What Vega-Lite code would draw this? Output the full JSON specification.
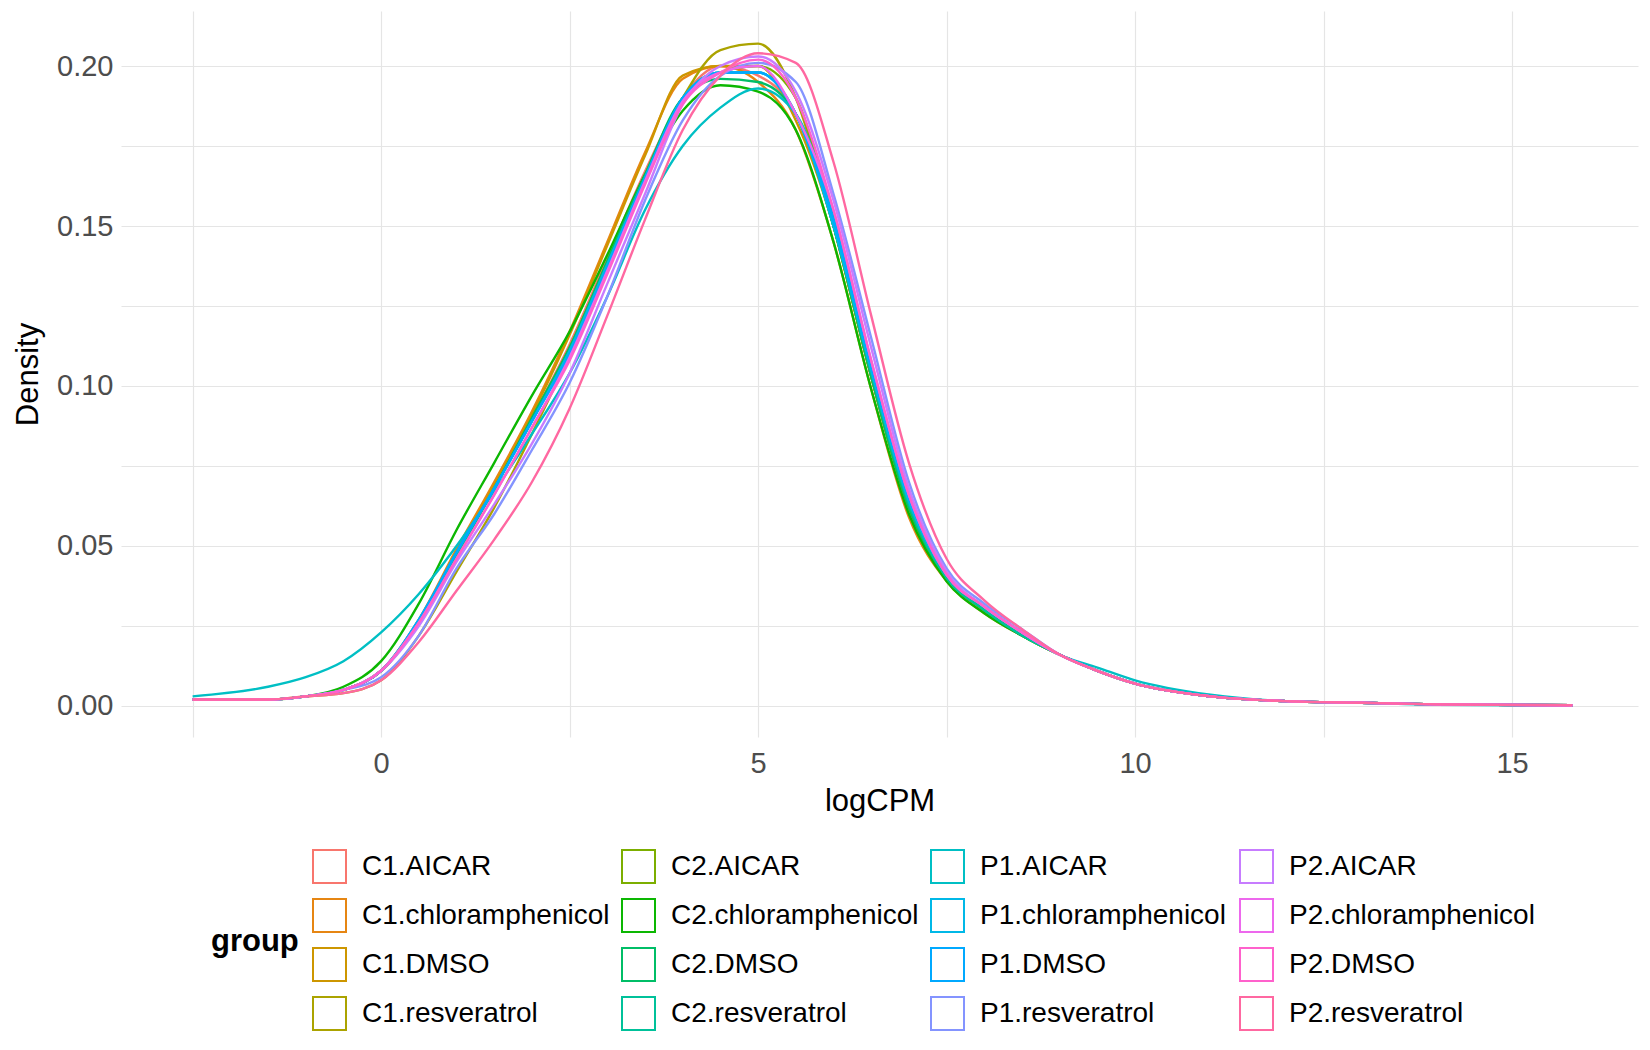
{
  "$schema": "https://vega.github.io/schema/vega-lite/v6.json",
  "width": 1517,
  "height": 726,
  "autosize": "none",
  "padding": {"left": 121, "top": 11, "right": 12, "bottom": 313},
  "background": "white",
  "config": {
    "font": "Liberation Sans",
    "view": {"stroke": null}
  },
  "data": {
    "values": [
      {"x": -2.5, "C1_AICAR": 0.002, "C1_chloramphenicol": 0.002, "C1_DMSO": 0.002, "C1_resveratrol": 0.002, "C2_AICAR": 0.002, "C2_chloramphenicol": 0.002, "C2_DMSO": 0.002, "C2_resveratrol": 0.002, "P1_AICAR": 0.003, "P1_chloramphenicol": 0.002, "P1_DMSO": 0.002, "P1_resveratrol": 0.002, "P2_AICAR": 0.002, "P2_chloramphenicol": 0.002, "P2_DMSO": 0.002, "P2_resveratrol": 0.002},
      {"x": -1.5, "C1_AICAR": 0.002, "C1_chloramphenicol": 0.002, "C1_DMSO": 0.002, "C1_resveratrol": 0.002, "C2_AICAR": 0.002, "C2_chloramphenicol": 0.002, "C2_DMSO": 0.002, "C2_resveratrol": 0.002, "P1_AICAR": 0.006, "P1_chloramphenicol": 0.002, "P1_DMSO": 0.002, "P1_resveratrol": 0.002, "P2_AICAR": 0.002, "P2_chloramphenicol": 0.002, "P2_DMSO": 0.002, "P2_resveratrol": 0.002},
      {"x": -1, "C1_AICAR": 0.003, "C1_chloramphenicol": 0.003, "C1_DMSO": 0.003, "C1_resveratrol": 0.003, "C2_AICAR": 0.003, "C2_chloramphenicol": 0.003, "C2_DMSO": 0.003, "C2_resveratrol": 0.003, "P1_AICAR": 0.009, "P1_chloramphenicol": 0.003, "P1_DMSO": 0.003, "P1_resveratrol": 0.003, "P2_AICAR": 0.003, "P2_chloramphenicol": 0.003, "P2_DMSO": 0.003, "P2_resveratrol": 0.003},
      {"x": -0.5, "C1_AICAR": 0.005, "C1_chloramphenicol": 0.005, "C1_DMSO": 0.005, "C1_resveratrol": 0.004, "C2_AICAR": 0.005, "C2_chloramphenicol": 0.006, "C2_DMSO": 0.005, "C2_resveratrol": 0.005, "P1_AICAR": 0.014, "P1_chloramphenicol": 0.005, "P1_DMSO": 0.005, "P1_resveratrol": 0.005, "P2_AICAR": 0.005, "P2_chloramphenicol": 0.005, "P2_DMSO": 0.005, "P2_resveratrol": 0.004},
      {"x": 0, "C1_AICAR": 0.011, "C1_chloramphenicol": 0.011, "C1_DMSO": 0.011, "C1_resveratrol": 0.008, "C2_AICAR": 0.011, "C2_chloramphenicol": 0.014, "C2_DMSO": 0.011, "C2_resveratrol": 0.011, "P1_AICAR": 0.023, "P1_chloramphenicol": 0.011, "P1_DMSO": 0.011, "P1_resveratrol": 0.009, "P2_AICAR": 0.011, "P2_chloramphenicol": 0.011, "P2_DMSO": 0.011, "P2_resveratrol": 0.008},
      {"x": 0.5, "C1_AICAR": 0.026, "C1_chloramphenicol": 0.027, "C1_DMSO": 0.026, "C1_resveratrol": 0.022, "C2_AICAR": 0.026, "C2_chloramphenicol": 0.032, "C2_DMSO": 0.026, "C2_resveratrol": 0.026, "P1_AICAR": 0.035, "P1_chloramphenicol": 0.027, "P1_DMSO": 0.027, "P1_resveratrol": 0.022, "P2_AICAR": 0.025, "P2_chloramphenicol": 0.026, "P2_DMSO": 0.026, "P2_resveratrol": 0.02},
      {"x": 1, "C1_AICAR": 0.047, "C1_chloramphenicol": 0.049, "C1_DMSO": 0.048, "C1_resveratrol": 0.042, "C2_AICAR": 0.047, "C2_chloramphenicol": 0.055, "C2_DMSO": 0.048, "C2_resveratrol": 0.047, "P1_AICAR": 0.05, "P1_chloramphenicol": 0.048, "P1_DMSO": 0.048, "P1_resveratrol": 0.043, "P2_AICAR": 0.045, "P2_chloramphenicol": 0.046, "P2_DMSO": 0.046, "P2_resveratrol": 0.036},
      {"x": 1.5, "C1_AICAR": 0.068, "C1_chloramphenicol": 0.07, "C1_DMSO": 0.069, "C1_resveratrol": 0.062, "C2_AICAR": 0.068, "C2_chloramphenicol": 0.076, "C2_DMSO": 0.068, "C2_resveratrol": 0.068, "P1_AICAR": 0.067, "P1_chloramphenicol": 0.068, "P1_DMSO": 0.068, "P1_resveratrol": 0.06, "P2_AICAR": 0.063, "P2_chloramphenicol": 0.066, "P2_DMSO": 0.066, "P2_resveratrol": 0.052},
      {"x": 2, "C1_AICAR": 0.09, "C1_chloramphenicol": 0.092, "C1_DMSO": 0.091, "C1_resveratrol": 0.085, "C2_AICAR": 0.09, "C2_chloramphenicol": 0.097, "C2_DMSO": 0.09, "C2_resveratrol": 0.089, "P1_AICAR": 0.085, "P1_chloramphenicol": 0.089, "P1_DMSO": 0.089, "P1_resveratrol": 0.08, "P2_AICAR": 0.082, "P2_chloramphenicol": 0.087, "P2_DMSO": 0.087, "P2_resveratrol": 0.07},
      {"x": 2.5, "C1_AICAR": 0.113, "C1_chloramphenicol": 0.117, "C1_DMSO": 0.116, "C1_resveratrol": 0.11, "C2_AICAR": 0.112, "C2_chloramphenicol": 0.117, "C2_DMSO": 0.112, "C2_resveratrol": 0.111, "P1_AICAR": 0.104, "P1_chloramphenicol": 0.111, "P1_DMSO": 0.11, "P1_resveratrol": 0.101, "P2_AICAR": 0.104, "P2_chloramphenicol": 0.109, "P2_DMSO": 0.108, "P2_resveratrol": 0.093},
      {"x": 3, "C1_AICAR": 0.14, "C1_chloramphenicol": 0.145, "C1_DMSO": 0.144, "C1_resveratrol": 0.138, "C2_AICAR": 0.139, "C2_chloramphenicol": 0.141, "C2_DMSO": 0.139, "C2_resveratrol": 0.138, "P1_AICAR": 0.128, "P1_chloramphenicol": 0.138, "P1_DMSO": 0.137, "P1_resveratrol": 0.128, "P2_AICAR": 0.132, "P2_chloramphenicol": 0.136, "P2_DMSO": 0.135, "P2_resveratrol": 0.122},
      {"x": 3.5, "C1_AICAR": 0.167, "C1_chloramphenicol": 0.173, "C1_DMSO": 0.172, "C1_resveratrol": 0.165, "C2_AICAR": 0.166, "C2_chloramphenicol": 0.166, "C2_DMSO": 0.166, "C2_resveratrol": 0.165, "P1_AICAR": 0.155, "P1_chloramphenicol": 0.165, "P1_DMSO": 0.165, "P1_resveratrol": 0.158, "P2_AICAR": 0.16, "P2_chloramphenicol": 0.164, "P2_DMSO": 0.163, "P2_resveratrol": 0.152},
      {"x": 4, "C1_AICAR": 0.19, "C1_chloramphenicol": 0.196, "C1_DMSO": 0.197, "C1_resveratrol": 0.19, "C2_AICAR": 0.19, "C2_chloramphenicol": 0.186, "C2_DMSO": 0.19, "C2_resveratrol": 0.19, "P1_AICAR": 0.175, "P1_chloramphenicol": 0.19, "P1_DMSO": 0.19, "P1_resveratrol": 0.183, "P2_AICAR": 0.188, "P2_chloramphenicol": 0.189, "P2_DMSO": 0.188, "P2_resveratrol": 0.18},
      {"x": 4.5, "C1_AICAR": 0.2, "C1_chloramphenicol": 0.2, "C1_DMSO": 0.2, "C1_resveratrol": 0.205, "C2_AICAR": 0.198, "C2_chloramphenicol": 0.194, "C2_DMSO": 0.196, "C2_resveratrol": 0.198, "P1_AICAR": 0.187, "P1_chloramphenicol": 0.198, "P1_DMSO": 0.198, "P1_resveratrol": 0.197, "P2_AICAR": 0.2, "P2_chloramphenicol": 0.198, "P2_DMSO": 0.198, "P2_resveratrol": 0.197},
      {"x": 5, "C1_AICAR": 0.197, "C1_chloramphenicol": 0.195, "C1_DMSO": 0.2, "C1_resveratrol": 0.207, "C2_AICAR": 0.2, "C2_chloramphenicol": 0.192, "C2_DMSO": 0.195, "C2_resveratrol": 0.198, "P1_AICAR": 0.193, "P1_chloramphenicol": 0.198, "P1_DMSO": 0.198, "P1_resveratrol": 0.201, "P2_AICAR": 0.203, "P2_chloramphenicol": 0.2, "P2_DMSO": 0.202, "P2_resveratrol": 0.204},
      {"x": 5.5, "C1_AICAR": 0.185, "C1_chloramphenicol": 0.18, "C1_DMSO": 0.183, "C1_resveratrol": 0.19, "C2_AICAR": 0.19, "C2_chloramphenicol": 0.18, "C2_DMSO": 0.185, "C2_resveratrol": 0.185, "P1_AICAR": 0.185, "P1_chloramphenicol": 0.185, "P1_DMSO": 0.185, "P1_resveratrol": 0.195, "P2_AICAR": 0.192, "P2_chloramphenicol": 0.185, "P2_DMSO": 0.19, "P2_resveratrol": 0.201},
      {"x": 6, "C1_AICAR": 0.15, "C1_chloramphenicol": 0.145, "C1_DMSO": 0.15, "C1_resveratrol": 0.15, "C2_AICAR": 0.15, "C2_chloramphenicol": 0.145, "C2_DMSO": 0.15, "C2_resveratrol": 0.15, "P1_AICAR": 0.153, "P1_chloramphenicol": 0.15, "P1_DMSO": 0.152, "P1_resveratrol": 0.16, "P2_AICAR": 0.158, "P2_chloramphenicol": 0.155, "P2_DMSO": 0.155, "P2_resveratrol": 0.17},
      {"x": 6.5, "C1_AICAR": 0.103, "C1_chloramphenicol": 0.099, "C1_DMSO": 0.103, "C1_resveratrol": 0.103, "C2_AICAR": 0.103, "C2_chloramphenicol": 0.099, "C2_DMSO": 0.103, "C2_resveratrol": 0.104, "P1_AICAR": 0.107, "P1_chloramphenicol": 0.105, "P1_DMSO": 0.106, "P1_resveratrol": 0.115, "P2_AICAR": 0.112, "P2_chloramphenicol": 0.108, "P2_DMSO": 0.108, "P2_resveratrol": 0.122},
      {"x": 7, "C1_AICAR": 0.062, "C1_chloramphenicol": 0.059, "C1_DMSO": 0.062, "C1_resveratrol": 0.062, "C2_AICAR": 0.062, "C2_chloramphenicol": 0.06, "C2_DMSO": 0.062, "C2_resveratrol": 0.063, "P1_AICAR": 0.065, "P1_chloramphenicol": 0.064, "P1_DMSO": 0.065, "P1_resveratrol": 0.07, "P2_AICAR": 0.068, "P2_chloramphenicol": 0.066, "P2_DMSO": 0.066, "P2_resveratrol": 0.076},
      {"x": 7.5, "C1_AICAR": 0.04, "C1_chloramphenicol": 0.039, "C1_DMSO": 0.04, "C1_resveratrol": 0.04, "C2_AICAR": 0.04, "C2_chloramphenicol": 0.039, "C2_DMSO": 0.04, "C2_resveratrol": 0.04, "P1_AICAR": 0.041, "P1_chloramphenicol": 0.041, "P1_DMSO": 0.041, "P1_resveratrol": 0.043, "P2_AICAR": 0.042, "P2_chloramphenicol": 0.041, "P2_DMSO": 0.041, "P2_resveratrol": 0.046},
      {"x": 8, "C1_AICAR": 0.03, "C1_chloramphenicol": 0.029, "C1_DMSO": 0.03, "C1_resveratrol": 0.03, "C2_AICAR": 0.03, "C2_chloramphenicol": 0.029, "C2_DMSO": 0.03, "C2_resveratrol": 0.03, "P1_AICAR": 0.031, "P1_chloramphenicol": 0.031, "P1_DMSO": 0.031, "P1_resveratrol": 0.032, "P2_AICAR": 0.031, "P2_chloramphenicol": 0.031, "P2_DMSO": 0.031, "P2_resveratrol": 0.033},
      {"x": 8.5, "C1_AICAR": 0.022, "C1_chloramphenicol": 0.022, "C1_DMSO": 0.022, "C1_resveratrol": 0.022, "C2_AICAR": 0.022, "C2_chloramphenicol": 0.022, "C2_DMSO": 0.022, "C2_resveratrol": 0.022, "P1_AICAR": 0.023, "P1_chloramphenicol": 0.023, "P1_DMSO": 0.023, "P1_resveratrol": 0.024, "P2_AICAR": 0.023, "P2_chloramphenicol": 0.023, "P2_DMSO": 0.023, "P2_resveratrol": 0.024},
      {"x": 9, "C1_AICAR": 0.016, "C1_chloramphenicol": 0.016, "C1_DMSO": 0.016, "C1_resveratrol": 0.016, "C2_AICAR": 0.016, "C2_chloramphenicol": 0.016, "C2_DMSO": 0.016, "C2_resveratrol": 0.016, "P1_AICAR": 0.016, "P1_chloramphenicol": 0.016, "P1_DMSO": 0.016, "P1_resveratrol": 0.016, "P2_AICAR": 0.016, "P2_chloramphenicol": 0.016, "P2_DMSO": 0.016, "P2_resveratrol": 0.016},
      {"x": 9.5, "C1_AICAR": 0.011, "C1_chloramphenicol": 0.011, "C1_DMSO": 0.011, "C1_resveratrol": 0.011, "C2_AICAR": 0.011, "C2_chloramphenicol": 0.011, "C2_DMSO": 0.011, "C2_resveratrol": 0.011, "P1_AICAR": 0.012, "P1_chloramphenicol": 0.011, "P1_DMSO": 0.011, "P1_resveratrol": 0.011, "P2_AICAR": 0.011, "P2_chloramphenicol": 0.011, "P2_DMSO": 0.011, "P2_resveratrol": 0.011},
      {"x": 10, "C1_AICAR": 0.007, "C1_chloramphenicol": 0.007, "C1_DMSO": 0.007, "C1_resveratrol": 0.007, "C2_AICAR": 0.007, "C2_chloramphenicol": 0.007, "C2_DMSO": 0.007, "C2_resveratrol": 0.007, "P1_AICAR": 0.008, "P1_chloramphenicol": 0.007, "P1_DMSO": 0.007, "P1_resveratrol": 0.007, "P2_AICAR": 0.007, "P2_chloramphenicol": 0.007, "P2_DMSO": 0.007, "P2_resveratrol": 0.007},
      {"x": 11, "C1_AICAR": 0.003, "C1_chloramphenicol": 0.003, "C1_DMSO": 0.003, "C1_resveratrol": 0.003, "C2_AICAR": 0.003, "C2_chloramphenicol": 0.003, "C2_DMSO": 0.003, "C2_resveratrol": 0.003, "P1_AICAR": 0.0035, "P1_chloramphenicol": 0.003, "P1_DMSO": 0.003, "P1_resveratrol": 0.003, "P2_AICAR": 0.003, "P2_chloramphenicol": 0.003, "P2_DMSO": 0.003, "P2_resveratrol": 0.003},
      {"x": 12, "C1_AICAR": 0.0015, "C1_chloramphenicol": 0.0015, "C1_DMSO": 0.0015, "C1_resveratrol": 0.0015, "C2_AICAR": 0.0015, "C2_chloramphenicol": 0.0015, "C2_DMSO": 0.0015, "C2_resveratrol": 0.0015, "P1_AICAR": 0.0015, "P1_chloramphenicol": 0.0015, "P1_DMSO": 0.0015, "P1_resveratrol": 0.0015, "P2_AICAR": 0.0015, "P2_chloramphenicol": 0.0015, "P2_DMSO": 0.0015, "P2_resveratrol": 0.0015},
      {"x": 13, "C1_AICAR": 0.001, "C1_chloramphenicol": 0.001, "C1_DMSO": 0.001, "C1_resveratrol": 0.001, "C2_AICAR": 0.001, "C2_chloramphenicol": 0.001, "C2_DMSO": 0.001, "C2_resveratrol": 0.001, "P1_AICAR": 0.001, "P1_chloramphenicol": 0.001, "P1_DMSO": 0.001, "P1_resveratrol": 0.001, "P2_AICAR": 0.001, "P2_chloramphenicol": 0.001, "P2_DMSO": 0.001, "P2_resveratrol": 0.001},
      {"x": 14, "C1_AICAR": 0.0005, "C1_chloramphenicol": 0.0005, "C1_DMSO": 0.0005, "C1_resveratrol": 0.0005, "C2_AICAR": 0.0005, "C2_chloramphenicol": 0.0005, "C2_DMSO": 0.0005, "C2_resveratrol": 0.0005, "P1_AICAR": 0.0004, "P1_chloramphenicol": 0.0005, "P1_DMSO": 0.0005, "P1_resveratrol": 0.0005, "P2_AICAR": 0.0005, "P2_chloramphenicol": 0.0005, "P2_DMSO": 0.0005, "P2_resveratrol": 0.0005},
      {"x": 15.8, "C1_AICAR": 0.0002, "C1_chloramphenicol": 0.0002, "C1_DMSO": 0.0002, "C1_resveratrol": 0.0002, "C2_AICAR": 0.0002, "C2_chloramphenicol": 0.0002, "C2_DMSO": 0.0002, "C2_resveratrol": 0.0002, "P1_AICAR": 0.0001, "P1_chloramphenicol": 0.0002, "P1_DMSO": 0.0002, "P1_resveratrol": 0.0002, "P2_AICAR": 0.0002, "P2_chloramphenicol": 0.0002, "P2_DMSO": 0.0002, "P2_resveratrol": 0.0002}
    ]
  },
  "transform": [
    {"fold": ["C1_AICAR", "C1_chloramphenicol", "C1_DMSO", "C1_resveratrol", "C2_AICAR", "C2_chloramphenicol", "C2_DMSO", "C2_resveratrol", "P1_AICAR", "P1_chloramphenicol", "P1_DMSO", "P1_resveratrol", "P2_AICAR", "P2_chloramphenicol", "P2_DMSO", "P2_resveratrol"], "as": ["group", "density"]}
  ],
  "mark": {"type": "line", "interpolate": "monotone", "strokeWidth": 2.4},
  "encoding": {
    "x": {
      "field": "x", "type": "quantitative", "title": "logCPM",
      "scale": {"domain": [-3.45, 16.67], "nice": false, "zero": false},
      "axis": {
        "values": [-2.5, 0, 2.5, 5, 7.5, 10, 12.5, 15],
        "labelExpr": "datum.value % 5 == 0 ? datum.label : ''",
        "domain": false, "ticks": false, "grid": true, "gridColor": "#e5e5e5", "gridWidth": 1.2,
        "labelFontSize": 29, "labelColor": "#4d4d4d", "labelPadding": 12,
        "titleFontSize": 31, "titleFontWeight": "normal", "titleColor": "black", "titlePadding": 8
      }
    },
    "y": {
      "field": "density", "type": "quantitative", "title": "Density",
      "scale": {"domain": [-0.0097, 0.2172], "nice": false, "zero": false},
      "axis": {
        "values": [0, 0.025, 0.05, 0.075, 0.1, 0.125, 0.15, 0.175, 0.2],
        "labelExpr": "round(datum.value * 1000) % 50 == 0 ? format(datum.value, '.2f') : ''",
        "domain": false, "ticks": false, "grid": true, "gridColor": "#e5e5e5", "gridWidth": 1.2,
        "labelFontSize": 29, "labelColor": "#4d4d4d", "labelPadding": 8,
        "titleFontSize": 31, "titleFontWeight": "normal", "titleColor": "black", "titlePadding": 12
      }
    },
    "color": {
      "field": "group", "type": "nominal",
      "scale": {
        "domain": ["C1_AICAR", "C1_chloramphenicol", "C1_DMSO", "C1_resveratrol", "C2_AICAR", "C2_chloramphenicol", "C2_DMSO", "C2_resveratrol", "P1_AICAR", "P1_chloramphenicol", "P1_DMSO", "P1_resveratrol", "P2_AICAR", "P2_chloramphenicol", "P2_DMSO", "P2_resveratrol"],
        "range": ["#F8766D", "#E68613", "#CD9600", "#ABA300", "#7CAE00", "#0CB702", "#00BE67", "#00C19A", "#00BFC4", "#00B8E7", "#00A9FF", "#8494FF", "#C77CFF", "#ED68ED", "#FF61CC", "#FF68A1"]
      },
      "legend": {
        "orient": "none", "legendX": 90, "legendY": 838,
        "columns": 4, "gridAlign": "all", "columnPadding": 8, "rowPadding": 8,
        "labelExpr": "replace(datum.label, '_', '.')",
        "symbolType": "square", "symbolSize": 1089, "symbolStrokeWidth": 2, "symbolFillColor": "transparent",
        "labelFontSize": 28, "labelColor": "black", "labelOffset": 15, "labelLimit": 400,
        "title": "group", "titleOrient": "left", "titleFontSize": 31, "titleFontWeight": "bold", "titleColor": "black", "titlePadding": 13, "titleAnchor": "middle"
      }
    }
  }
}
